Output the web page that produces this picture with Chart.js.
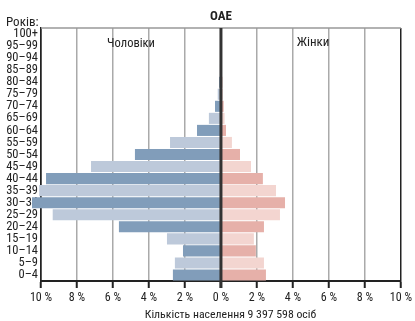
<!DOCTYPE html>
<html><head><meta charset="utf-8">
<script src="https://cdn.jsdelivr.net/npm/chart.js@4/dist/chart.umd.min.js"></script>
<style>html,body{margin:0;padding:0;background:#fff}#wrap{width:415px;height:321px}</style>
</head><body><div id="wrap"><canvas id="c" width="415" height="321"></canvas></div>
<script>
// Age groups from youngest (bottom) to oldest (top)
const ageGroups = ["0–4","5–9","10–14","15–19","20–24","25–29","30–34","35–39","40–44","45–49","50–54","55–59","60–64","65–69","70–74","75–79","80–84","85–89","90–94","95–99","100+"];
// Share of total population, %
const malePct   = [2.67,2.56,2.11,3.00,5.67,9.35,10.50,10.10,9.72,7.22,4.78,2.83,1.33,0.67,0.33,0.18,0.10,0.06,0.04,0.02,0.01];
const femalePct = [2.50,2.39,1.94,1.83,2.39,3.28,3.56,3.06,2.33,1.67,1.06,0.61,0.28,0.20,0.15,0.10,0.08,0.05,0.03,0.02,0.01];
const xTicks = [-10,-8,-6,-4,-2,0,2,4,6,8,10];
const titleText = "OAE";
const yAxisCaption = "Років:";
const maleLabel = "Чоловіки";
const femaleLabel = "Жінки";
const xCaption = "Кількість населення 9 397 598 осіб";

const FONT = "'Roboto Condensed','DejaVu Sans Condensed',sans-serif";
const TXT = '#222';
const maleColors = ageGroups.map((_,i)=> i%2===0 ? '#819dba' : '#bdc9da');
const femaleColors = ageGroups.map((_,i)=> i%2===0 ? '#e6b0a9' : '#f3d5d0');

const annot = {
  id:'annot',
  afterDatasetsDraw(chart){
    const {ctx, chartArea:a, scales:{x}} = chart;
    ctx.save();
    ctx.strokeStyle='#999'; ctx.lineWidth=1.5;
    ctx.beginPath(); ctx.moveTo(a.left,a.top); ctx.lineTo(a.right,a.top); ctx.stroke();
    const x0 = x.getPixelForValue(0);
    ctx.strokeStyle='#333'; ctx.lineWidth=3;
    ctx.beginPath(); ctx.moveTo(x0,a.top); ctx.lineTo(x0,a.bottom+7); ctx.stroke();
    ctx.fillStyle=TXT;
    ctx.textBaseline='middle';
    ctx.font="bold 13px "+FONT; ctx.textAlign='center';
    ctx.fillText(titleText, x0, 17);
    ctx.font="13px "+FONT; ctx.textAlign='left';
    ctx.fillText(yAxisCaption, 6, 23);
    ctx.font="12.5px "+FONT; ctx.textAlign='center';
    ctx.fillText(maleLabel, 131, 44);
    ctx.font="13px "+FONT;
    ctx.fillText(femaleLabel, 313, 43);
    ctx.font="11.8px "+FONT;
    ctx.fillText(xCaption, 230.5, 315);
    ctx.restore();
  }
};

new Chart(document.getElementById('c'), {
  type:'bar',
  data:{
    labels: ageGroups,
    datasets:[
      {label:maleLabel, data: malePct.map(v=>-v), backgroundColor: maleColors, borderWidth:0, clip:false},
      {label:femaleLabel, data: femalePct, backgroundColor: femaleColors, borderWidth:0, clip:false}
    ]
  },
  options:{
    indexAxis:'y',
    responsive:false,
    animation:false,
    devicePixelRatio:1,
    layout:{padding:{top:28,right:14,left:0,bottom:0}},
    plugins:{legend:{display:false},tooltip:{enabled:false},title:{display:false}},
    datasets:{bar:{barPercentage:0.92,categoryPercentage:1}},
    scales:{
      x:{
        stacked:true, min:-10, max:10,
        afterBuildTicks(s){ s.ticks = xTicks.map(v=>({value:v})); },
        afterFit(s){ s.height = 40; },
        ticks:{callback:v=>Math.abs(v)+' %', color:TXT, font:{family:FONT,size:12}, padding:3, maxRotation:0},
        grid:{
          color:c=> (Math.abs(c.tick.value)===10) ? '#222' : '#aaa',
          lineWidth:1.5,
          tickColor:'#222', tickWidth:2, tickLength:7
        },
        border:{display:true,color:'#222',width:2}
      },
      y:{
        stacked:true, reverse:true,
        afterFit(s){ s.width = 41; },
        ticks:{color:TXT, font:{family:FONT,size:12.5}, padding:3, autoSkip:false},
        grid:{display:true, drawOnChartArea:false, drawTicks:false},
        border:{display:true,color:'#222',width:1.5}
      }
    }
  },
  plugins:[annot]
});
</script>
</body></html>
